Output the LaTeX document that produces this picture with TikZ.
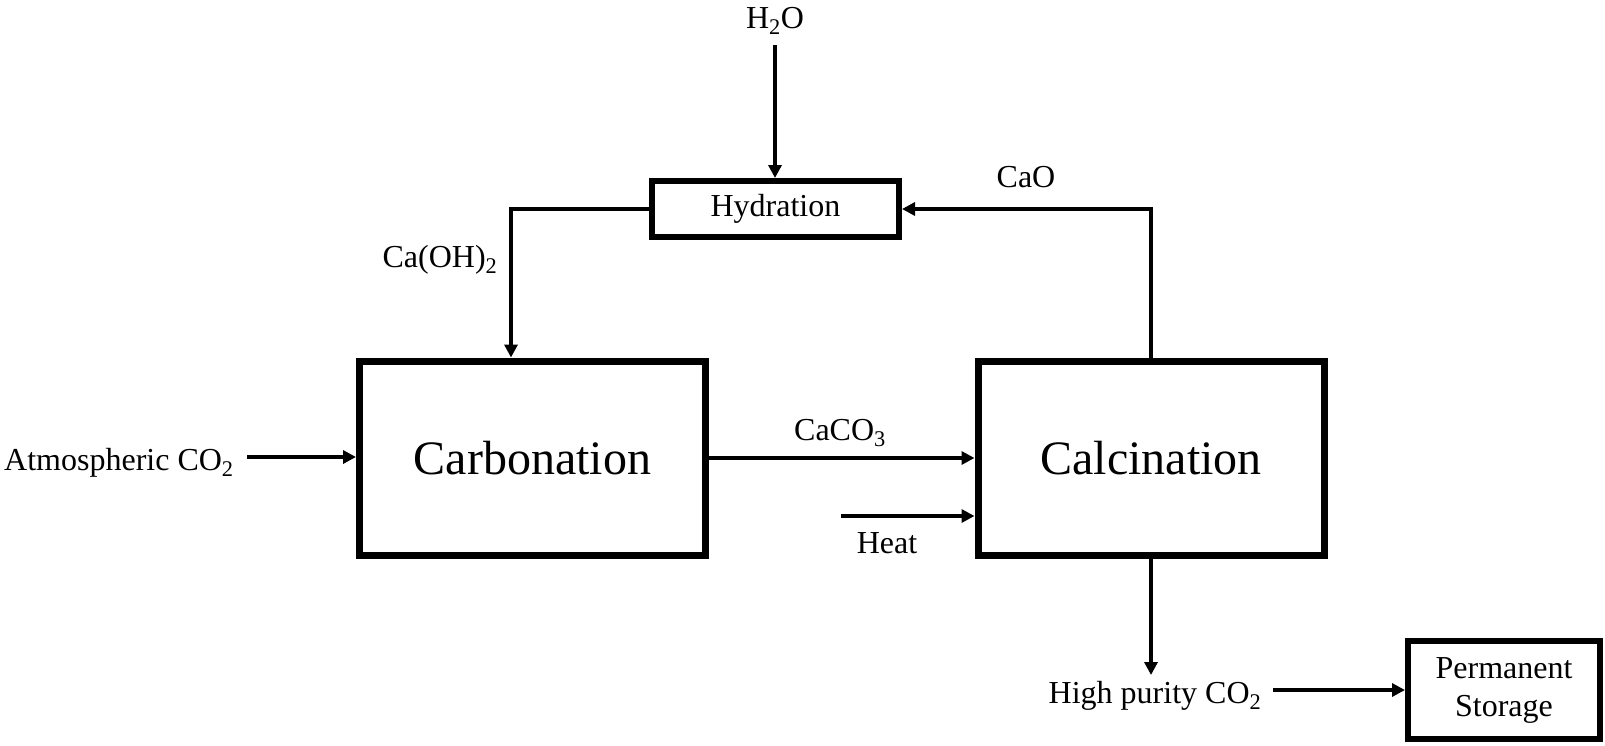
\documentclass[tikz,border=0pt]{standalone}
\usepackage{fontspec}
\setmainfont{Liberation Serif}
\usetikzlibrary{arrows.meta}
\begin{document}
\begin{tikzpicture}[x=1pt,y=-1pt,
  lbl/.style={inner sep=0pt,font=\fontsize{32}{39}\selectfont},
  bigbox/.style={draw,line width=7pt,minimum width=346pt,minimum height=194pt,inner sep=0pt,font=\fontsize{48}{56}\selectfont},
  smallbox/.style={draw,line width=6pt,inner sep=0pt,align=center,font=\fontsize{32}{38}\selectfont},
  flow/.style={line width=3.5pt,-{Triangle[length=13pt,width=13pt]}}]
\useasboundingbox (0,0) rectangle (1605,745);

% boxes
\node[bigbox] (carb) at (532.5,458) {Carbonation};
\node[bigbox] (calc) at (1151,458) {Calcination};
\node[smallbox,minimum width=247pt,minimum height=56pt] (hyd) at (775.5,209) {Hydration};
\node[smallbox,minimum width=192pt,minimum height=98pt] (ps) at (1504,690) {Permanent\\Storage};

% labels
\node[lbl,anchor=base] (h2o) at (775,28) {H\textsubscript{2}O};
\node[lbl,anchor=base west] (atm) at (4,470) {Atmospheric CO\textsubscript{2}};
\node[lbl,anchor=base] (caco3) at (840,440) {CaCO\textsubscript{3}};
\node[lbl,anchor=base] (heat) at (887,553) {Heat};
\node[lbl,anchor=base] (cao) at (1026,187) {CaO};
\node[lbl,anchor=base] (caoh) at (440,267) {Ca(OH)\textsubscript{2}};
\node[lbl,anchor=base] (hp) at (1155,703) {High purity CO\textsubscript{2}};

% free ends
\coordinate (h2oS) at (775,45);
\coordinate (atmS) at (247,457);
\coordinate (heatS) at (841,516);
\coordinate (cohx) at (511,0);
\coordinate (hpE) at (1151,675);
\coordinate (hpS) at (1273,690);

% connectors
\draw[flow] (h2oS) -- (h2oS |- hyd.north);
\draw[flow] (atmS) -- (atmS -| carb.west);
\draw[flow] (carb.east) -- (calc.west);
\draw[flow] (heatS) -- (heatS -| calc.west);
\draw[flow] (calc.north) |- (hyd.east);
\draw[flow] (hyd.west) -| (cohx |- carb.north);
\draw[flow] (calc.south) -- (hpE);
\draw[flow] (hpS) -- (hpS -| ps.west);
\end{tikzpicture}
\end{document}
